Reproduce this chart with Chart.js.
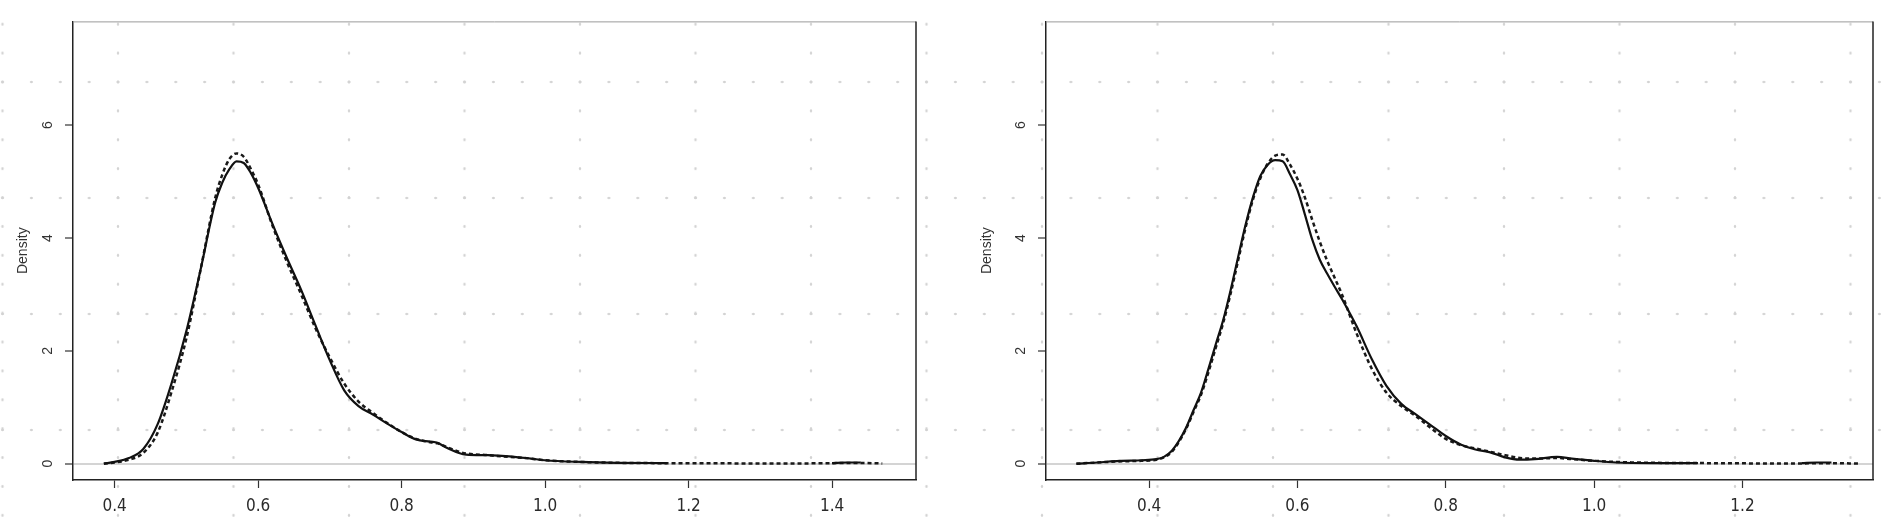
<!DOCTYPE html>
<html>
<head>
<meta charset="utf-8">
<title>Density</title>
<script src="https://cdn.jsdelivr.net/npm/chart.js@4.4.1/dist/chart.umd.min.js"></script>
<style>
  html, body { margin: 0; padding: 0; }
  body {
    width: 1902px;
    height: 525px;
    overflow: hidden;
    position: relative;
    background-color: #fff;
    /* faint dotted paper behind both panels */
    background-image:
      radial-gradient(circle, #d2d2d2 0, #d2d2d2 1px, rgba(255,255,255,0) 1.6px),
      radial-gradient(circle, #d2d2d2 0, #d2d2d2 1px, rgba(255,255,255,0) 1.6px);
    background-size: 28.875px 116px, 115.5px 28.9px;
    background-position: -11.9px 24px, 60.25px 9.75px;
  }
  .panel { position: absolute; top: 0; width: 951px; height: 525px; }
  #panelLeft { left: 0; }
  #panelRight { left: 951px; }
</style>
</head>
<body>
<div class="panel" id="panelLeft"><canvas id="chartLeft"></canvas></div>
<div class="panel" id="panelRight"><canvas id="chartRight"></canvas></div>

<script>
// ---- data ----
const yTicks = [0, 2, 4, 6];

const leftXTicks = [0.4, 0.6, 0.8, 1.0, 1.2, 1.4];
const leftX = [0.385, 0.40, 0.42, 0.44, 0.46, 0.48, 0.50, 0.52, 0.54, 0.55, 0.56, 0.57, 0.58, 0.59, 0.60,
  0.62, 0.64, 0.66, 0.68, 0.70, 0.72, 0.74, 0.76, 0.78, 0.80, 0.82, 0.84, 0.85, 0.86, 0.88, 0.89,
  0.92, 0.95, 0.98, 1.00, 1.05, 1.10, 1.17, 1.25, 1.35, 1.40, 1.42, 1.44, 1.47];
const leftSolid = [0.00, 0.03, 0.10, 0.26, 0.70, 1.45, 2.35, 3.45, 4.62, 4.98, 5.22, 5.36, 5.33, 5.15, 4.89,
  4.25, 3.65, 3.08, 2.45, 1.83, 1.30, 1.02, 0.87, 0.71, 0.56, 0.43, 0.39, 0.37, 0.30, 0.19, 0.16,
  0.15, 0.13, 0.09, 0.06, 0.03, 0.015, 0.01, null, null, 0.01, 0.02, 0.02, null];
const leftDashed = [0.00, 0.02, 0.07, 0.19, 0.55, 1.30, 2.22, 3.45, 4.70, 5.12, 5.40, 5.50, 5.44, 5.22, 4.95,
  4.22, 3.58, 3.00, 2.40, 1.88, 1.42, 1.10, 0.90, 0.72, 0.56, 0.44, 0.38, 0.36, 0.31, 0.21, 0.18,
  0.15, 0.12, 0.09, 0.06, 0.03, 0.015, 0.008, 0.005, 0.004, 0.008, 0.012, 0.012, 0.003];

const rightXTicks = [0.4, 0.6, 0.8, 1.0, 1.2];
const rightX = [0.302, 0.33, 0.36, 0.39, 0.41, 0.42, 0.43, 0.44, 0.45, 0.46, 0.47, 0.48, 0.49, 0.50,
  0.51, 0.52, 0.53, 0.54, 0.55, 0.56, 0.57, 0.58, 0.59, 0.60, 0.61, 0.62, 0.63, 0.64, 0.65, 0.66, 0.68,
  0.70, 0.72, 0.74, 0.76, 0.78, 0.80, 0.82, 0.84, 0.86, 0.88, 0.90, 0.92, 0.95, 0.97, 1.00, 1.03,
  1.08, 1.14, 1.20, 1.28, 1.30, 1.32, 1.357];
const rightSolid = [0.00, 0.02, 0.05, 0.06, 0.08, 0.12, 0.22, 0.40, 0.64, 0.95, 1.26, 1.68, 2.12, 2.55,
  3.08, 3.66, 4.23, 4.72, 5.10, 5.30, 5.38, 5.36, 5.13, 4.85, 4.42, 3.97, 3.62, 3.37, 3.14, 2.92, 2.43,
  1.86, 1.38, 1.06, 0.87, 0.68, 0.49, 0.34, 0.25, 0.20, 0.11, 0.07, 0.08, 0.12, 0.09, 0.05, 0.02,
  0.01, 0.01, null, 0.01, 0.02, 0.02, null];
const rightDashed = [0.00, 0.02, 0.04, 0.05, 0.07, 0.11, 0.20, 0.38, 0.62, 0.92, 1.22, 1.62, 2.06, 2.50,
  3.02, 3.60, 4.18, 4.68, 5.06, 5.32, 5.46, 5.48, 5.30, 5.05, 4.72, 4.32, 3.94, 3.60, 3.30, 3.00, 2.30,
  1.69, 1.26, 1.02, 0.84, 0.63, 0.44, 0.33, 0.27, 0.21, 0.15, 0.10, 0.09, 0.10, 0.08, 0.05, 0.03,
  0.015, 0.01, 0.005, 0.004, 0.008, 0.008, 0.002];

const Y_MIN = -0.29;
const Y_MAX = 7.84;

// R-style box: right side dark, top side light
const boxPlugin = {
  id: 'rbox',
  afterDatasetsDraw(chart) {
    const a = chart.chartArea;
    const ctx = chart.ctx;
    ctx.save();
    ctx.lineWidth = 1;
    ctx.strokeStyle = '#9a9a9a';
    ctx.beginPath();
    ctx.moveTo(a.left, a.top + 0.5);
    ctx.lineTo(a.right, a.top + 0.5);
    ctx.stroke();
    ctx.lineWidth = 1.5;
    ctx.strokeStyle = '#222';
    ctx.beginPath();
    ctx.moveTo(a.right, a.top);
    ctx.lineTo(a.right, a.bottom);
    ctx.stroke();
    ctx.restore();
  }
};

function pairs(xs, ys) {
  return xs.map(function(x, i) { return { x: x, y: ys[i] }; });
}

function densityChart(canvasId, xs, solid, dashed, xMin, xMax, xTicks, axisWidth, padRight, titlePad) {
  return new Chart(document.getElementById(canvasId), {
    type: 'line',
    data: {
      datasets: [{
        data: pairs(xs, solid),
        borderColor: '#111',
        borderWidth: 2.2,
        pointRadius: 0,
        cubicInterpolationMode: 'monotone',
        fill: false
      }, {
        data: pairs(xs, dashed),
        borderColor: '#1a1a1a',
        borderWidth: 2.5,
        borderDash: [4, 3],
        pointRadius: 0,
        cubicInterpolationMode: 'monotone',
        fill: false
      }]
    },
    options: {
      responsive: true,
      maintainAspectRatio: false,
      animation: false,
      layout: { padding: { left: 0, right: padRight, top: 13, bottom: 0 } },
      plugins: {
        legend: { display: false },
        tooltip: { enabled: false }
      },
      scales: {
        x: {
          type: 'linear',
          min: xMin,
          max: xMax,
          afterBuildTicks: function(s) { s.ticks = xTicks.map(function(v) { return { value: v }; }); },
          afterFit: function(s) { s.height = 45; },
          border: { display: true, color: '#222', width: 1.5 },
          grid: { drawOnChartArea: false, drawTicks: true, tickLength: 8, tickColor: '#333', tickWidth: 1.2 },
          ticks: {
            autoSkip: false,
            maxRotation: 0,
            minRotation: 0,
            padding: 8,
            color: '#2a2a2a',
            font: { family: "'Liberation Sans Narrow', 'DejaVu Sans Condensed', 'Arial Narrow', sans-serif", size: 17 },
            callback: function(v) { return Number(v).toFixed(1); }
          }
        },
        y: {
          type: 'linear',
          min: Y_MIN,
          max: Y_MAX,
          afterBuildTicks: function(s) { s.ticks = yTicks.map(function(v) { return { value: v }; }); },
          afterFit: function(s) { s.width = axisWidth; },
          border: { display: true, color: '#222', width: 1.5 },
          grid: {
            color: function(c) { return c.tick && c.tick.value === 0 ? '#d4d4d4' : 'rgba(0,0,0,0)'; },
            lineWidth: 2,
            drawTicks: true,
            tickLength: 8,
            tickColor: '#333',
            tickWidth: 1.2
          },
          ticks: {
            autoSkip: false,
            minRotation: 90,
            maxRotation: 90,
            crossAlign: 'center',
            padding: 13,
            color: '#333',
            font: { family: "'Liberation Sans', Arial, sans-serif", size: 14 },
            callback: function(v) { return String(v); }
          },
          title: {
            display: true,
            text: 'Density',
            color: '#333',
            font: { family: "'Liberation Sans', Arial, sans-serif", size: 14 },
            padding: { top: titlePad, bottom: 0 }
          }
        }
      }
    },
    plugins: [boxPlugin]
  });
}

document.addEventListener('DOMContentLoaded', function() {
  if (typeof Chart === 'undefined') return;
  densityChart('chartLeft', leftX, leftSolid, leftDashed, 0.342, 1.517, leftXTicks, 73, 35, 15);
  densityChart('chartRight', rightX, rightSolid, rightDashed, 0.261, 1.376, rightXTicks, 95, 29, 28);
});
</script>
</body>
</html>
